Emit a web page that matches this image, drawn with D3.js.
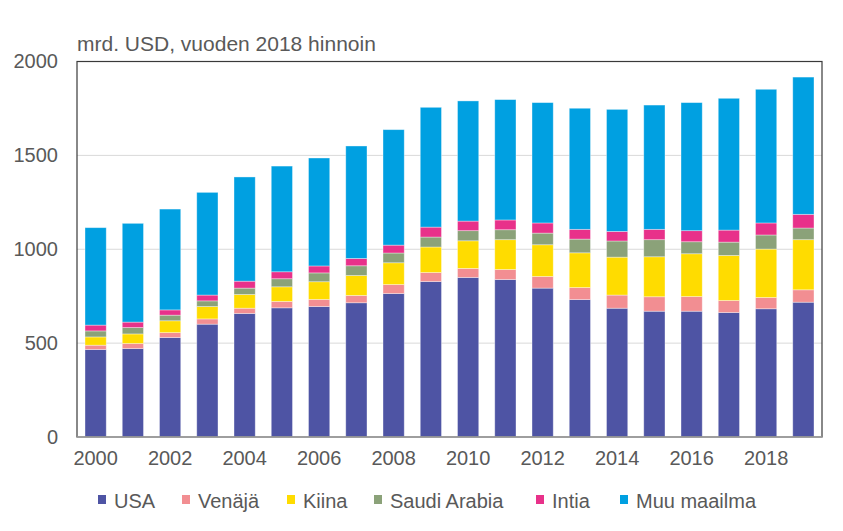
<!DOCTYPE html>
<html>
<head>
<meta charset="utf-8">
<script src="https://cdn.jsdelivr.net/npm/d3@7"></script>
<style>
  html, body { margin: 0; padding: 0; background: #fff; }
  svg { display: block; font-family: "Liberation Sans", Arial, sans-serif; }
</style>
</head>
<body>
<svg id="chart" width="843" height="531"></svg>
<script>
const years = [2000,2001,2002,2003,2004,2005,2006,2007,2008,2009,2010,2011,2012,2013,2014,2015,2016,2017,2018,2019];
const seriesNames = ["USA", "Venäjä", "Kiina", "Saudi Arabia", "Intia", "Muu maailma"];
const usa    = [466,471,530,601,658,688,695,715,764,828,850,839,793,732,686,670,670,663,683,718];
const venaja = [ 23, 27, 26, 28, 28, 34, 38, 39, 48, 48, 48, 53, 62, 64, 70, 77, 78, 64, 60, 66];
const kiina  = [ 44, 51, 63, 66, 73, 78, 94,106,116,136,147,159,169,185,202,213,228,240,258,267];
const saudi  = [ 32, 34, 30, 30, 34, 43, 47, 52, 52, 53, 54, 53, 62, 73, 86, 91, 64, 71, 75, 62];
const intia  = [ 31, 29, 28, 31, 37, 37, 37, 39, 42, 53, 51, 52, 54, 52, 51, 55, 59, 64, 64, 73];
const muu    = [519,526,537,547,555,563,575,599,615,638,640,641,641,645,650,662,682,702,712,731];
const yTicks = [0, 500, 1000, 1500, 2000];
const xTickYears = [2000,2002,2004,2006,2008,2010,2012,2014,2016,2018];
const unitLabel = "mrd. USD, vuoden 2018 hinnoin";

const colors = ["#4E54A4", "#F28E92", "#FFDC00", "#8BA279", "#E8318A", "#00A0E1"];
const seriesValues = [usa, venaja, kiina, saudi, intia, muu];

const table = years.map((y, i) => {
  const row = { year: y };
  seriesNames.forEach((s, k) => row[s] = seriesValues[k][i]);
  return row;
});

const svg = d3.select("#chart");
const M = { left: 77, right: 822, top: 61.5, bottom: 437 };
const textColor = "#595959";

const x = d3.scaleBand().domain(years).range([M.left, M.right]).paddingInner(0.43).paddingOuter(0.215);
const y = d3.scaleLinear().domain([0, 2000]).range([M.bottom, M.top]);

// gridlines
svg.append("g").selectAll("line").data(yTicks.filter(t => t > 0)).join("line")
  .attr("x1", M.left).attr("x2", M.right)
  .attr("y1", d => y(d)).attr("y2", d => y(d))
  .attr("stroke", "#d9d9d9").attr("stroke-width", 1);

// bars
const stacked = d3.stack().keys(seriesNames)(table);
svg.append("g").selectAll("g").data(stacked).join("g")
  .attr("fill", (d, i) => colors[i])
  .selectAll("rect").data(d => d).join("rect")
  .attr("x", d => x(d.data.year))
  .attr("width", x.bandwidth())
  .attr("y", d => y(d[1]))
  .attr("height", d => y(d[0]) - y(d[1]))
  .attr("stroke", "rgba(255,255,255,0.45)")
  .attr("stroke-width", 0.8);

// frame
svg.append("rect")
  .attr("x", M.left).attr("y", M.top)
  .attr("width", M.right - M.left).attr("height", M.bottom - M.top)
  .attr("fill", "none").attr("stroke", "#3a3a3a").attr("stroke-width", 1.2);

// y axis
const yAxis = d3.axisLeft(y).tickValues(yTicks).tickFormat(d3.format("d")).tickSize(0).tickPadding(19);
const gy = svg.append("g").attr("transform", `translate(${M.left},0)`).call(yAxis);
gy.select(".domain").remove();
gy.selectAll("text").attr("fill", textColor).style("font-size", "20px");

// x axis
const xAxis = d3.axisBottom(x).tickValues(xTickYears).tickFormat(d3.format("d")).tickSize(0).tickPadding(14);
const gx = svg.append("g").attr("transform", `translate(0,${M.bottom})`).call(xAxis);
gx.select(".domain").attr("stroke", "#a6a6a6").attr("stroke-width", 1.5)
  .attr("d", `M${M.left},0H${M.right}`);
gx.selectAll("text").attr("fill", textColor).style("font-size", "20px");

// unit label
svg.append("text").attr("x", 77).attr("y", 51)
  .attr("fill", textColor).style("font-size", "21px").text(unitLabel);

// legend
const legendX = [98, 182, 287, 374, 536, 620];
const lg = svg.append("g");
seriesNames.forEach((s, i) => {
  lg.append("rect").attr("x", legendX[i]).attr("y", 495).attr("width", 8).attr("height", 9)
    .attr("fill", colors[i]);
  lg.append("text").attr("x", legendX[i] + 16).attr("y", 507.5)
    .attr("fill", textColor).style("font-size", "20px").text(s);
});
</script>
</body>
</html>
